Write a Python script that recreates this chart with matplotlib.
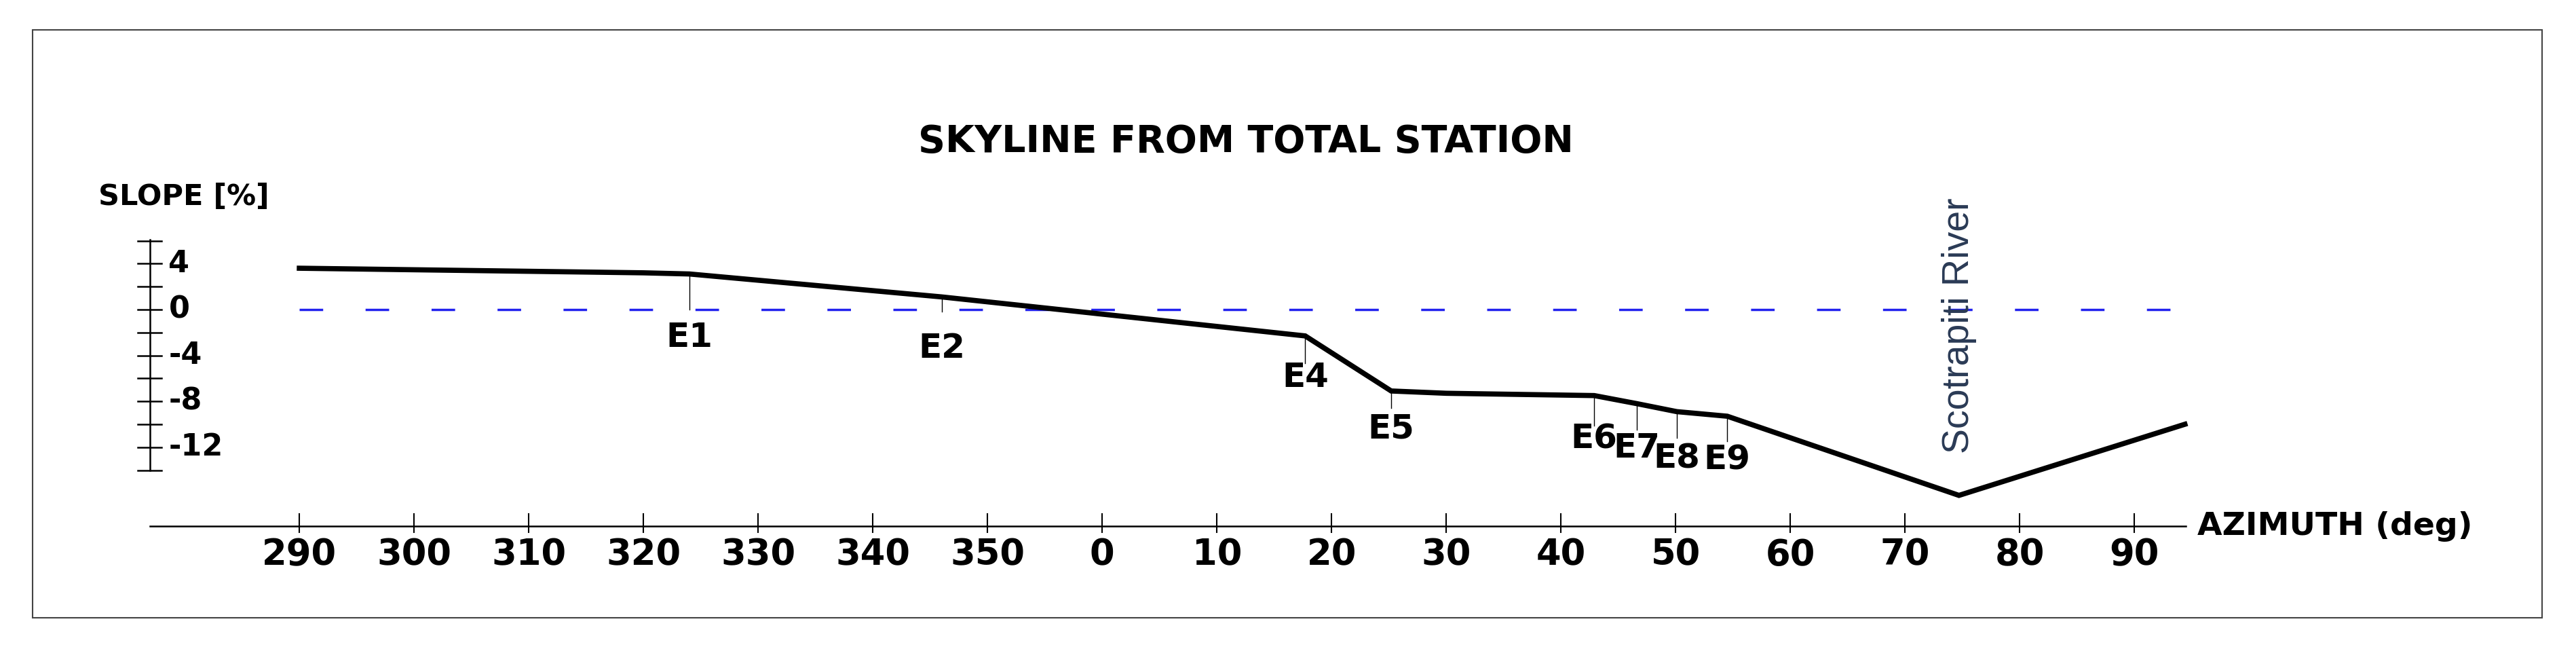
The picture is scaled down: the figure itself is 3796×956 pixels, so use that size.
import matplotlib
matplotlib.use("Agg")
import matplotlib.pyplot as plt
from matplotlib.patches import Rectangle

plt.rcParams['font.family'] = ['Liberation Sans Narrow', 'DejaVu Sans']

# Data (azimuth unwrapped: 360+ means 0..)
azimuth = [290, 320, 324, 346, 377.7, 385.2, 390, 402.9, 406.6, 410.1, 414.5, 434.7, 454.4]
slope   = [3.6, 3.2, 3.1, 1.1, -2.3, -7.1, -7.3, -7.5, -8.2, -8.9, -9.3, -16.2, -10.0]

event_names = ['E1', 'E2', 'E4', 'E5', 'E6', 'E7', 'E8', 'E9']
event_az    = [324, 346, 377.7, 385.2, 402.9, 406.6, 410.1, 414.5]
event_slope = [3.1, 1.1, -2.3, -7.1, -7.5, -8.2, -8.9, -9.3]
event_line_end = [0.0, -0.2, -4.7, -8.6, -10.1, -10.5, -11.2, -11.5]
event_label_y  = [-2.4, -3.4, -5.9, -10.4, -11.3, -12.1, -13.0, -13.1]

x_ticks = list(range(290, 451, 10))
x_tick_labels = [str(t % 360) for t in x_ticks]
y_minor = list(range(6, -15, -2))
y_labels = [4, 0, -4, -8, -12]

river_az = 434.7
river_label = 'Scotrapiti River'

W, H = 3796, 956
fig = plt.figure(figsize=(W/100, H/100), dpi=100)
ax = fig.add_axes([0, 0, 1, 1])
ax.set_xlim(263.9, 488.5)
ax.set_ylim(-29.59, 26.98)
ax.axis('off')

# border
fig.patches.append(Rectangle((48/W, 1-910/H), (3746-48)/W, (910-44)/H,
                             transform=fig.transFigure, fill=False, ec='#444444', lw=1.5))

ax.text(372.5, 14.6, 'SKYLINE FROM TOTAL STATION', ha='center', va='center',
        fontsize=40, fontweight='bold')

# y axis
yax_x = 277.0
ax.plot([yax_x, yax_x], [6.1, -14], color='black', lw=1.8)
for t in y_minor:
    ax.plot([yax_x - 1.1, yax_x + 1.0], [t, t], color='black', lw=1.8)
for t in y_labels:
    ax.text(278.6, t, str(t), ha='left', va='center', fontsize=32, fontweight='bold')
ax.text(272.5, 9.8, 'SLOPE [%]', ha='left', va='center', fontsize=31, fontweight='bold')

# x axis
xax_y = -18.9
ax.plot([277.0, 454.5], [xax_y, xax_y], color='black', lw=1.8)
for t, lab in zip(x_ticks, x_tick_labels):
    ax.plot([t, t], [xax_y + 1.1, xax_y - 0.5], color='black', lw=1.5)
    ax.text(t, -21.4, lab, ha='center', va='center', fontsize=38, fontweight='bold')
ax.text(455.5, xax_y, 'AZIMUTH (deg)', ha='left', va='center', fontsize=34, fontweight='bold')

# zero reference line
ax.plot([290, 455], [0, 0], color='#2222ee', lw=2.5, dashes=(10, 18))

# skyline
ax.plot(azimuth, slope, color='black', lw=5.5, solid_joinstyle='miter')

# events
for n, a, s, e, ly in zip(event_names, event_az, event_slope, event_line_end, event_label_y):
    ax.plot([a, a], [s, e], color='black', lw=1)
    ax.text(a, ly, n, ha='center', va='center', fontsize=36, fontweight='bold')

ax.text(river_az, -1.4, river_label, rotation=90, ha='center', va='center',
        fontsize=40, color='#2a3a55', family=['Liberation Sans', 'DejaVu Sans'])

fig.savefig('out.png', dpi=100)
